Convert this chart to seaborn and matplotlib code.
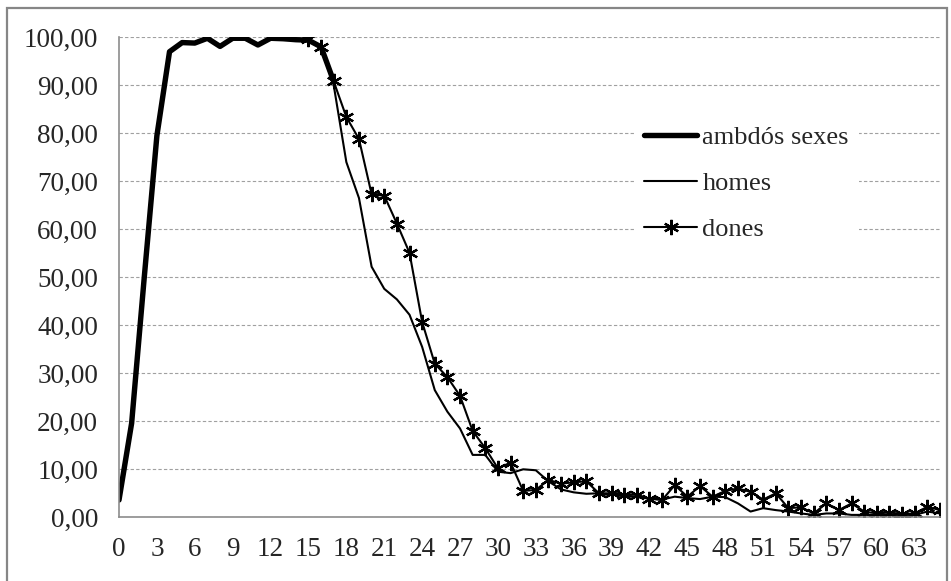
import matplotlib
matplotlib.use("Agg")
import matplotlib.pyplot as plt
import matplotlib.patches as patches
from matplotlib.ticker import MultipleLocator, FuncFormatter
import pandas as pd
import seaborn as sns

# ages (x categories)
ages_both = list(range(0, 18))
ages_sex = list(range(15, 66))

# ambdós sexes
both = [3.6, 19.6, 50.0, 79.5, 97.0, 98.9, 98.8, 99.8, 98.1, 99.8, 99.8, 98.4,
        99.8, 99.7, 99.5, 99.4, 98.0, 90.8]

# homes
men = [99.4, 97.8, 90.0, 74.0, 66.5, 52.2, 47.6, 45.4, 42.2, 35.5, 26.5, 22.0,
       18.5, 13.0, 13.0, 9.5, 9.2, 10.0, 9.8, 7.5, 5.8, 5.2, 4.9, 5.0, 4.7, 4.6,
       4.2, 3.9, 3.7, 4.3, 4.0, 3.8, 4.3, 4.2, 2.9, 1.2, 1.9, 1.5, 1.2, 0.8, 0.5,
       0.8, 0.8, 0.5, 0.5, 0.5, 0.5, 0.5, 0.5, 1.2, 0.8]

# dones
women = [99.6, 98.0, 90.8, 83.4, 78.8, 67.3, 67.0, 61.2, 55.1, 40.7, 32.0, 29.2,
         25.3, 18.0, 14.4, 10.2, 11.4, 5.5, 5.7, 7.8, 7.0, 7.3, 7.5, 5.0, 5.0, 4.7,
         4.7, 3.9, 3.6, 6.7, 4.3, 6.5, 4.3, 5.5, 6.0, 5.3, 3.7, 5.0, 1.9, 2.1, 0.8,
         2.9, 1.5, 2.9, 1.2, 0.8, 1.0, 0.7, 0.8, 2.2, 1.5]

labels = ["ambdós sexes", "homes", "dones"]

df_both = pd.DataFrame({"edat": ages_both, "valor": both})
df_men = pd.DataFrame({"edat": ages_sex, "valor": men})
df_women = pd.DataFrame({"edat": ages_sex, "valor": women})

sns.set_style("white")
plt.rcParams["font.family"] = ["Liberation Serif", "DejaVu Serif"]
plt.rcParams["font.size"] = 19

fig = plt.figure(figsize=(9.51, 5.81), dpi=100)
ax = fig.add_axes([119 / 951, 63.7 / 581, 821 / 951, 480 / 581])

sns.lineplot(data=df_both, x="edat", y="valor", ax=ax, color="black",
             linewidth=3.9, label=labels[0])
sns.lineplot(data=df_men, x="edat", y="valor", ax=ax, color="black",
             linewidth=1.5, label=labels[1])
sns.lineplot(data=df_women, x="edat", y="valor", ax=ax, color="black",
             linewidth=1.5, marker=(6, 2, 0), markersize=11,
             markeredgewidth=1.6, markeredgecolor="black", label=labels[2])

ax.set_xlim(0, 65)
ax.set_ylim(0, 100)
ax.set_xlabel("")
ax.set_ylabel("")

ax.xaxis.set_major_locator(MultipleLocator(3))
ax.xaxis.set_minor_locator(MultipleLocator(1))
ax.yaxis.set_major_locator(MultipleLocator(10))
ax.yaxis.set_major_formatter(FuncFormatter(lambda v, p: f"{v:.2f}".replace(".", ",")))

axis_grey = "#8c8c8c"
ax.tick_params(axis="x", which="both", direction="out", length=5.5, width=1,
               color=axis_grey, pad=9, labelsize=19.5)
ax.tick_params(axis="y", which="major", direction="out", length=6, width=1,
               color=axis_grey, pad=9, labelsize=19.5)

ax.yaxis.grid(True, linestyle=(0, (3, 2)), color="#a0a0a0", linewidth=0.8)
ax.xaxis.grid(False)
ax.set_axisbelow(True)

for side in ["top", "right"]:
    ax.spines[side].set_visible(False)
for side in ["left", "bottom"]:
    ax.spines[side].set_color(axis_grey)
    ax.spines[side].set_linewidth(1.2)

leg = ax.legend(loc="center left", bbox_to_anchor=(0.611, 0.696), frameon=True,
                fontsize=19, handlelength=2.0, handletextpad=0.2,
                labelspacing=0.85, borderpad=0.4, fancybox=False)
leg.get_frame().set_facecolor("white")
leg.get_frame().set_edgecolor("none")
leg.get_frame().set_alpha(1)

# outer chart border
border = patches.Rectangle((7 / 951, -0.1), 940 / 951, 1.1 - 8 / 581,
                           transform=fig.transFigure, fill=False,
                           edgecolor="#868686", linewidth=1.6)
fig.patches.append(border)

fig.savefig("out.png", dpi=100)
